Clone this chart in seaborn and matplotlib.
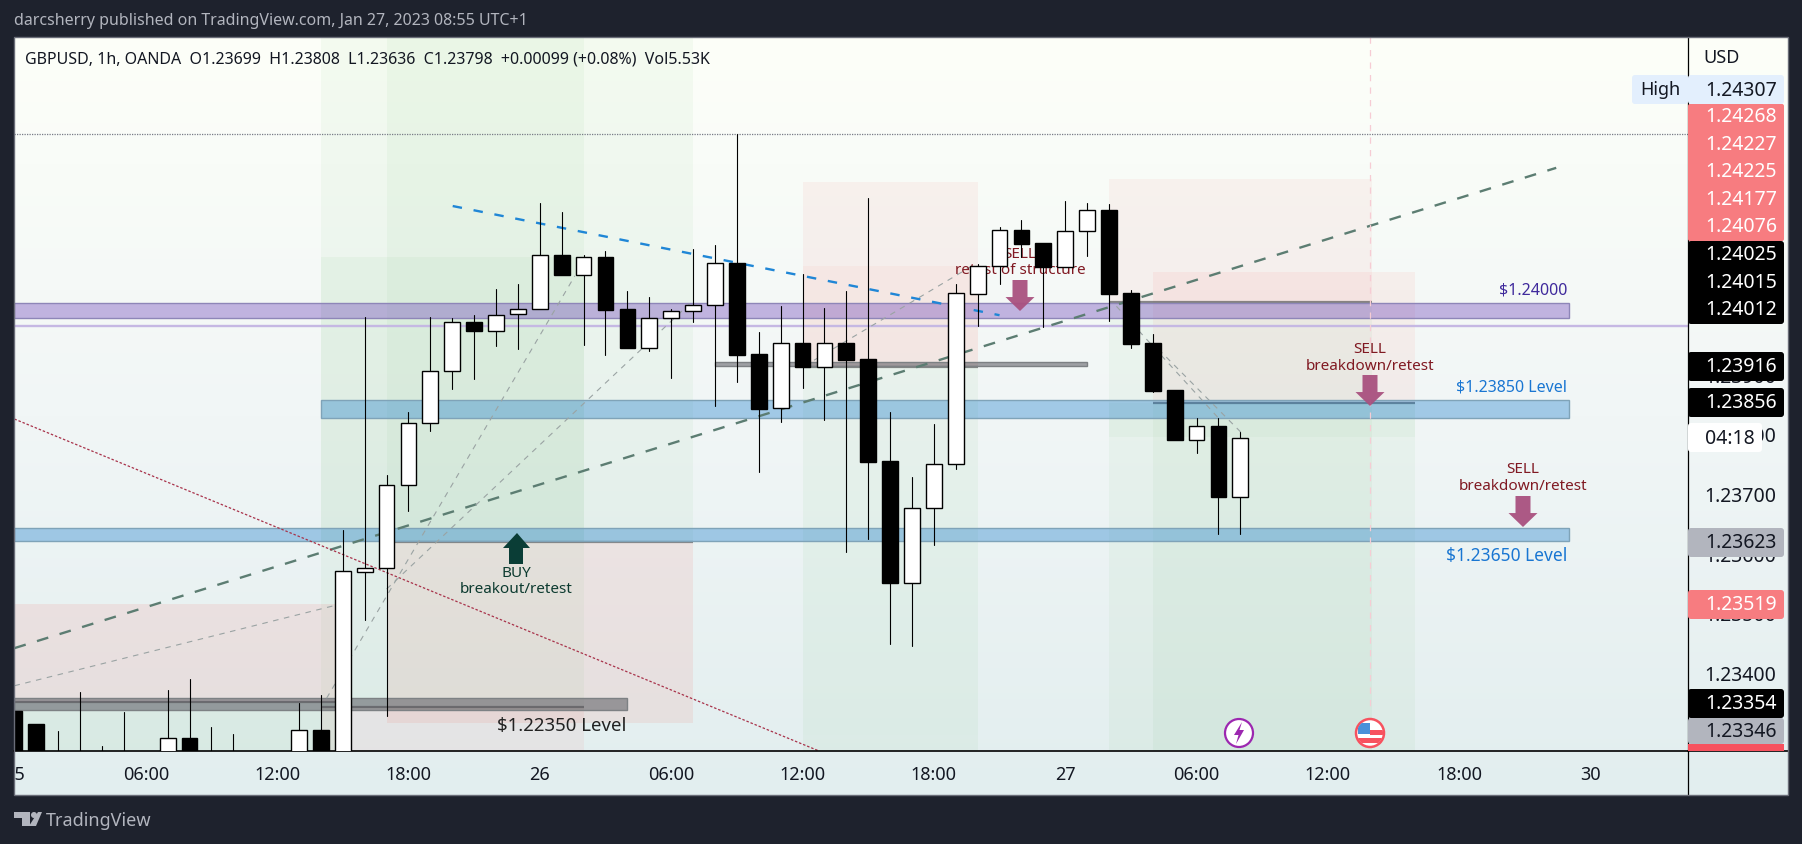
import numpy as np
import pandas as pd
import seaborn as sns
import matplotlib
matplotlib.use("Agg")
import matplotlib.pyplot as plt
from matplotlib.colors import LinearSegmentedColormap
from matplotlib.lines import Line2D
from matplotlib.patches import Rectangle, FancyBboxPatch, Polygon, Circle
from matplotlib.transforms import Affine2D, Bbox, TransformedBbox, IdentityTransform

# ---------- data ----------
hours = list(range(57))
open_ = [1.23340,1.23318,1.23260,1.23250,1.23250,1.23250,1.23250,1.23230,1.23294,1.23250,1.23250,1.23240,1.23240,1.23240,1.23308,
         1.23230,1.23573,1.23579,1.23718,1.23822,1.23910,1.23992,1.23977,1.24005,1.24013,1.24104,1.24070,1.24101,1.24013,1.23948,
         1.23998,1.24010,1.24020,1.24091,1.23938,1.23847,1.23956,1.23916,1.23956,1.23930,1.23759,1.23554,1.23680,1.23754,1.24039,
         1.24085,1.24146,1.24124,1.24084,1.24144,1.24179,1.24040,1.23956,1.23878,1.23794,1.23817,1.23699]
high = [1.23342,1.23318,1.23306,1.23372,1.23281,1.23338,1.23265,1.23375,1.23393,1.23313,1.23301,1.23260,1.23260,1.23353,1.23366,
        1.23643,1.24000,1.23735,1.23841,1.24000,1.23998,1.24003,1.24047,1.24055,1.24191,1.24176,1.24104,1.24111,1.24044,1.24034,
        1.24013,1.24114,1.24121,1.24307,1.23975,1.24018,1.24072,1.24015,1.24044,1.24199,1.23841,1.23732,1.23821,1.24055,1.24089,
        1.24151,1.24163,1.24124,1.24194,1.24191,1.24189,1.24045,1.23972,1.23878,1.23831,1.23831,1.23808]
low = [1.23200,1.23150,1.23200,1.23200,1.23200,1.23200,1.23200,1.23200,1.23200,1.23200,1.23200,1.23200,1.23200,1.23200,1.23200,
       1.23200,1.23492,1.23331,1.23675,1.23809,1.23879,1.23896,1.23951,1.23946,1.24013,1.24070,1.23953,1.23936,1.23948,1.23943,
       1.23898,1.23992,1.23851,1.23891,1.23740,1.23824,1.23881,1.23827,1.23606,1.23628,1.23452,1.23449,1.23618,1.23745,1.23985,
       1.24055,1.24101,1.23983,1.24084,1.24102,1.23993,1.23948,1.23874,1.23794,1.23772,1.23636,1.23636]
close = [1.23250,1.23200,1.23230,1.23230,1.23230,1.23230,1.23230,1.23294,1.23240,1.23230,1.23230,1.23250,1.23250,1.23308,1.23240,
         1.23574,1.23579,1.23718,1.23822,1.23910,1.23992,1.23977,1.24003,1.24013,1.24104,1.24070,1.24101,1.24012,1.23948,1.23998,
         1.24010,1.24020,1.24091,1.23936,1.23846,1.23956,1.23916,1.23956,1.23928,1.23757,1.23554,1.23680,1.23754,1.24040,1.24085,
         1.24146,1.24122,1.24084,1.24144,1.24179,1.24039,1.23955,1.23876,1.23794,1.23817,1.23698,1.23798]

hour_ticks = [0,6,12,18,24,30,36,42,48,54,60,66,72]
hour_labels = ["25","06:00","12:00","18:00","26","06:00","12:00","18:00","27","06:00","12:00","18:00","30"]
price_ticks = [1.234,1.235,1.236,1.237,1.238,1.239]

purple_zone = (0, 71, 1.23998, 1.24023)
blue_zone_a = (14, 71, 1.23830, 1.23861)
blue_zone_b = (0, 71, 1.23625, 1.23646)
grey_zone_a = (0, 28, 1.23341, 1.23361)
grey_zone_b = (32, 49, 1.23918, 1.23925)
green_boxes = [(14,26,1.23341,1.24101),(14,31,1.23623,1.24470),(17,26,1.23623,1.24470),(0,15,1.23200,1.23355),
               (36,44,1.23299,1.23916),(36,44,1.23200,1.23299),(50,62,1.23200,1.24025),(52,64,1.23200,1.23856),
               (50,64,1.23799,1.23856)]
green_alpha = [0.05,0.05,0.05,0.07,0.06,0.05,0.05,0.05,0.04]
red_boxes = [(14,26,1.23200,1.23346),(17,31,1.23320,1.23623),(0,15,1.23354,1.23519),(36,44,1.23916,1.24227),
             (36,44,1.23916,1.24085),(50,62,1.24025,1.24231),(52,64,1.23856,1.24076)]
red_alpha = [0.06,0.085,0.095,0.055,0.04,0.05,0.06]
entry_lines = [(14,26,1.23346),(17,31,1.23623),(0,15,1.23354),(36,44,1.23916),(50,62,1.24025),(52,64,1.23856)]
green_trend = ([0,70.43],[1.23445,1.24250])
blue_trend = ([20.02,45],[1.24186,1.24003])
red_trend = ([0,36.73],[1.23829,1.23273])
grey_trends = [([0,14.58],[1.23382,1.23516]),([14.26,25.6],[1.23361,1.24069]),([17,30.84],[1.23544,1.24022]),
               ([36.09,43.9],[1.23918,1.24089]),([50.34,55.04],[1.24018,1.23829]),([52.26,56.05],[1.23946,1.23806])]
high_price = 1.24307
lilac_price = 1.23985

stacked_labels = [("1.24268","#f77c80","white"),("1.24227","#f77c80","white"),("1.24225","#f77c80","white"),
                  ("1.24177","#f77c80","white"),("1.24076","#f77c80","white"),("1.24025","black","white"),
                  ("1.24015","black","white"),("1.24012","black","white")]
stacked_y = [117,145,172,200,227,255,283,310]
single_labels = [("1.24307","#e3effd","#131722",76,105),("1.23916","black","white",353,382),
                 ("1.23856","black","white",389,418),("1.23623","#b2b5be","#131722",529,558),
                 ("1.23519","#f77c80","white",591,620),("1.23354","black","white",690,719),
                 ("1.23346","#b2b5be","#131722",719,745)]

# ---------- setup ----------
sns.set_theme(style="white")
plt.rcParams["font.family"] = ["Noto Sans", "DejaVu Sans"]
W, H = 1802, 845
fig = plt.figure(figsize=(W/100, H/100), dpi=100, facecolor="#1e222d")
PX = Affine2D().scale(1, -1).translate(0, H)
LBL = 14

def rect(x0, y0, x1, y1):
    return [x0/W, 1-y1/H, (x1-x0)/W, (y1-y0)/H]

bg = fig.add_axes(rect(14, 38, 1788, 796), zorder=0)
grad = LinearSegmentedColormap.from_list("g", ["#fdfff9", "#f1f6f6", "#e2eeef"])
bg.imshow(np.linspace(0, 1, 256)[:, None], aspect="auto", cmap=grad)
bg.axis("off")

ax = fig.add_axes(rect(14, 38, 1688, 752), zorder=1)
ax.patch.set_alpha(0)
XL, YL = (-0.02, 76.45), (1.232726, 1.244693)

df = pd.DataFrame({"hour": hours, "open": open_, "high": high, "low": low, "close": close})
df["bottom"] = df[["open", "close"]].min(axis=1)
df["body"] = (df["open"] - df["close"]).abs()
up = df[df["close"] >= df["open"]]
down = df[df["close"] < df["open"]]

wicks = df.melt(id_vars="hour", value_vars=["high", "low"], value_name="price")
sns.lineplot(data=wicks, x="hour", y="price", units="hour", estimator=None, color="black",
             linewidth=0.8, ax=ax, zorder=3, legend=False)
for part, col in ((up, "white"), (down, "black")):
    sns.barplot(data=part, x="hour", y="body", bottom=part["bottom"].values, native_scale=True,
                width=0.72, color=col, saturation=1, edgecolor="black", linewidth=1.0,
                errorbar=None, ax=ax, zorder=4)

# zones / boxes
for (x0, x1, p0, p1), a in zip(green_boxes, green_alpha):
    ax.add_patch(Rectangle((x0, p0), x1-x0, p1-p0, fc=(0.30, 0.69, 0.31, a), ec="none", zorder=1))
for (x0, x1, p0, p1), a in zip(red_boxes, red_alpha):
    ax.add_patch(Rectangle((x0, p0), x1-x0, p1-p0, fc=(0.96, 0.26, 0.21, a), ec="none", zorder=1))
for x0, x1, p in entry_lines:
    ax.plot([x0, x1], [p, p], color=(0.35, 0.35, 0.35, 0.7), lw=1.6, zorder=1.5, solid_capstyle="butt")
for z, fc, ec in ((purple_zone, (0.40, 0.23, 0.72, 0.36), "#8e86b8"),
                  (blue_zone_a, (0.13, 0.50, 0.80, 0.38), "#7fa3b8"),
                  (blue_zone_b, (0.13, 0.50, 0.80, 0.38), "#7fa3b8"),
                  (grey_zone_a, (0.35, 0.35, 0.38, 0.55), "#7d8184"),
                  (grey_zone_b, (0.35, 0.35, 0.38, 0.55), "#7d8184")):
    ax.add_patch(Rectangle((z[0], z[2]), z[1]-z[0], z[3]-z[2], fc=fc, ec=ec, lw=1, zorder=1.6))

# lines
ax.axhline(high_price, color="#787b86", lw=0.9, ls=(0, (1, 1)), zorder=2)
ax.axhline(lilac_price, color="#c5b8e3", lw=1.7, zorder=2)
ax.plot(*green_trend, color="#5c7d72", lw=1.7, ls=(0, (5, 5)), zorder=2)
ax.plot(*blue_trend, color="#1f86d6", lw=1.7, ls=(0, (4, 5)), zorder=2)
ax.plot(*red_trend, color="#a8324a", lw=0.9, ls=(0, (2, 1.5)), zorder=2)
for xs, ys in grey_trends:
    ax.plot(xs, ys, color="#9aa3a3", lw=0.8, ls=(0, (5, 5)), zorder=2)

ax.set_xlim(*XL)
ax.set_ylim(*YL)
ax.set_xlabel("")
ax.set_ylabel("")
ax.set_xticks(hour_ticks)
ax.set_xticklabels(hour_labels)
ax.yaxis.tick_right()
ax.set_yticks(price_ticks)
ax.set_yticklabels([f"{p:.5f}" for p in price_ticks], va="center")
ax.tick_params(axis="x", length=0, pad=10, labelsize=13, labelcolor="#131722", bottom=True)
ax.tick_params(axis="y", length=0, pad=12, labelsize=LBL, labelcolor="#131722", right=True, left=False)
for s in ("top", "left", "right"):
    ax.spines[s].set_visible(False)
ax.spines["bottom"].set_color("black")
ax.spines["bottom"].set_linewidth(1.2)
ax.grid(False)
ax.xaxis.get_ticklabels()[0].set_clip_box(TransformedBbox(Bbox([[14, 0], [1788, H]]), IdentityTransform()))
ax.xaxis.get_ticklabels()[0].set_clip_on(True)

# pixel-placed annotations
ax.plot([1370, 1370], [38, 713], color="#f6ccd4", lw=0.9, ls=(0, (5, 5)), transform=PX, zorder=2, clip_on=True)

def atext(x, y, s, color, ha="center", size=11):
    ax.text(x, y, s, color=color, ha=ha, va="center", fontsize=size, transform=PX, zorder=2.6)

def down_arrow(x, y0, y1, color):
    hw, sw, m = 14.5, 7.5, y0 + (y1-y0)*0.55
    ax.add_patch(Polygon([(x-sw, y0), (x+sw, y0), (x+sw, m), (x+hw, m), (x, y1), (x-hw, m), (x-sw, m)],
                         fc=color, ec="none", transform=PX, zorder=2.7, alpha=0.95))

atext(1567, 291, "$1.24000", "#3f2a9c", ha="right", size=11.5)
atext(1567, 388, "$1.23850 Level", "#1976d2", ha="right", size=11.5)
atext(1567, 556, "$1.23650 Level", "#1976d2", ha="right", size=12.5)
atext(626, 726, "$1.22350 Level", "#222222", ha="right", size=13.4)
for x, y0, y1, l2, ay0, ay1 in ((1370, 350, 367, "breakdown/retest", 376, 407),
                                (1523, 470, 487, "breakdown/retest", 497, 528),
                                (1020, 255, 271, "retest of structure", 281, 312)):
    atext(x, y0, "SELL", "#801922")
    atext(x, y1, l2, "#801922")
    down_arrow(x, ay0, ay1, "#a9517f")
atext(516, 574, "BUY", "#0d3b30")
atext(516, 590, "breakout/retest", "#0d3b30")
ax.add_patch(Polygon([(509, 565), (523, 565), (523, 549), (530, 549), (517, 534), (503, 549), (509, 549)],
                     fc="#0a3d36", ec="none", transform=PX, zorder=2.7))

# event icons
c1 = Circle((1239, 734), 14, fc="white", ec="#9c27b0", lw=1.6, transform=PX, zorder=6)
ax.add_patch(c1)
ax.add_patch(Polygon([(1242, 723), (1234, 736), (1238.5, 736), (1236, 745), (1244, 731), (1239.5, 731)],
                     fc="#9c27b0", ec="none", transform=PX, zorder=7))
c2 = Circle((1370, 734), 14, fc="white", ec="#f7525f", lw=1.8, transform=PX, zorder=6)
ax.add_patch(c2)
for x0, y0, x1, y1, col in ((1370, 731, 1384, 736, "#f7525f"),
                            (1356, 739, 1384, 744, "#f7525f"), (1358, 724, 1370, 735, "#4a90d9")):
    r = Rectangle((x0, y0), x1-x0, y1-y0, fc=col, ec="none", transform=PX, zorder=6.5)
    ax.add_patch(r)
    r.set_clip_path(Circle((1370, 734), 13, transform=PX))

# frame
fig.add_artist(Rectangle((14, 38), 1774, 758, fc="none", ec="#6a6d78", lw=1, transform=PX, zorder=8))
fig.add_artist(Line2D([1688, 1688], [38, 796], color="black", lw=0.9, transform=PX, zorder=4))
fig.add_artist(Line2D([1688, 1788], [752, 752], color="black", lw=1.2, transform=PX, zorder=4))

def label(y0, y1, s, fc, tc, x0=1688, x1=1784, tx=1705):
    fig.add_artist(FancyBboxPatch((x0, y0), x1-x0, y1-y0, boxstyle="round,pad=0,rounding_size=3",
                                  fc=fc, ec="none", transform=PX, zorder=5))
    if s:
        fig.text(tx/W, 1-(y0+y1)/2/H, s, color=tc, fontsize=LBL, ha="left", va="center", zorder=6)

fig.text(1703/W, 1-58/H, "USD", color="#131722", fontsize=13, va="center", zorder=6)
# High tag
fig.add_artist(FancyBboxPatch((1632, 76), 56, 29, boxstyle="round,pad=0,rounding_size=3", fc="#e3effd", ec="none",
                              transform=PX, zorder=5))
fig.text(1640/W, 1-90/H, "High", color="#131722", fontsize=13, va="center", zorder=6)
# contiguous stacks
fig.add_artist(FancyBboxPatch((1688, 105), 96, 137, boxstyle="round,pad=0,rounding_size=2", fc="#f77c80", ec="none",
                              transform=PX, zorder=5))
fig.add_artist(FancyBboxPatch((1688, 242), 96, 83, boxstyle="round,pad=0,rounding_size=3", fc="black", ec="none",
                              transform=PX, zorder=5))
for (s, fc, tc), y in zip(stacked_labels, stacked_y):
    fig.text(1705/W, 1-y/H, s, color=tc, fontsize=LBL, va="center", zorder=6)
for s, fc, tc, y0, y1 in single_labels:
    label(y0, y1, s, fc, tc)
label(424, 453, "04:18", "white", "#131722", x1=1762)
fig.add_artist(Rectangle((1688, 745), 96, 7, fc="#f7525f", ec="none", transform=PX, zorder=5))

# header + legend
fig.text(14/W, 1-21/H, "darcsherry published on TradingView.com, Jan 27, 2023 08:55 UTC+1", color="#b2b5be",
         fontsize=11.5, va="center", zorder=9)
fig.text(25/W, 1-59/H, "GBPUSD, 1h, OANDA  O1.23699  H1.23808  L1.23636  C1.23798  +0.00099 (+0.08%)  Vol5.53K",
         color="#131722", fontsize=11.5, va="center", zorder=9)

# footer logo
for pts in ([(14, 813), (30, 813), (30, 827), (22, 827), (22, 819), (14, 819)],
            [(38, 813), (42, 813), (36, 827), (29, 827)]):
    fig.add_artist(Polygon(pts, fc="#b2b5be", ec="none", transform=PX, zorder=9))
fig.add_artist(Circle((34, 816), 3, fc="#b2b5be", ec="none", transform=PX, zorder=9))
fig.text(46/W, 1-821/H, "TradingView", color="#b2b5be", fontsize=13, va="center", zorder=9)

fig.savefig("out.png", dpi=100, facecolor=fig.get_facecolor())
